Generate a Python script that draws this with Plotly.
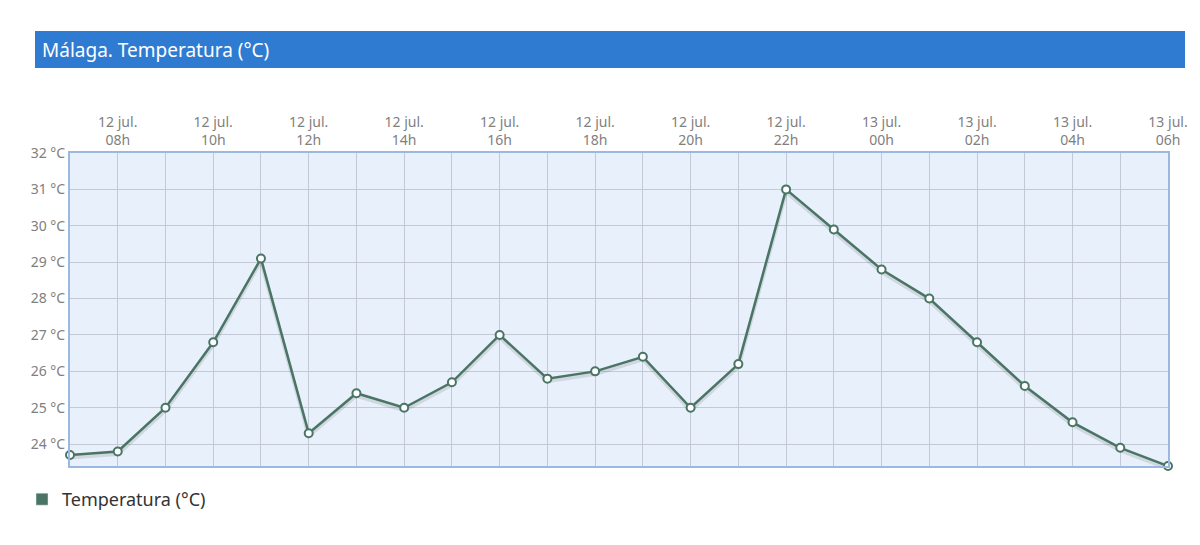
import plotly.graph_objects as go

times = ["2024-07-12 07:00", "2024-07-12 08:00", "2024-07-12 09:00", "2024-07-12 10:00",
         "2024-07-12 11:00", "2024-07-12 12:00", "2024-07-12 13:00", "2024-07-12 14:00",
         "2024-07-12 15:00", "2024-07-12 16:00", "2024-07-12 17:00", "2024-07-12 18:00",
         "2024-07-12 19:00", "2024-07-12 20:00", "2024-07-12 21:00", "2024-07-12 22:00",
         "2024-07-12 23:00", "2024-07-13 00:00", "2024-07-13 01:00", "2024-07-13 02:00",
         "2024-07-13 03:00", "2024-07-13 04:00", "2024-07-13 05:00", "2024-07-13 06:00"]
temps = [23.7, 23.8, 25.0, 26.8, 29.1, 24.3, 25.4, 25.0, 25.7, 27.0, 25.8, 26.0,
         26.4, 25.0, 26.2, 31.0, 29.9, 28.8, 28.0, 26.8, 25.6, 24.6, 23.9, 23.4]

tick_vals = ["2024-07-12 08:00", "2024-07-12 10:00", "2024-07-12 12:00", "2024-07-12 14:00",
             "2024-07-12 16:00", "2024-07-12 18:00", "2024-07-12 20:00", "2024-07-12 22:00",
             "2024-07-13 00:00", "2024-07-13 02:00", "2024-07-13 04:00", "2024-07-13 06:00"]
tick_text = ["12 jul.<br>08h", "12 jul.<br>10h", "12 jul.<br>12h", "12 jul.<br>14h",
             "12 jul.<br>16h", "12 jul.<br>18h", "12 jul.<br>20h", "12 jul.<br>22h",
             "13 jul.<br>00h", "13 jul.<br>02h", "13 jul.<br>04h", "13 jul.<br>06h"]

title = "Málaga. Temperatura (°C)"
series_name = "Temperatura (°C)"

line_color = "#4a7565"
OFF = 8  # page body margin
W, H = 1200 - 2 * OFF, 545 - 2 * OFF
# desired plot area in page pixels: x 70..1168, y 153..466
L = 70 - OFF
T = 153 - OFF
R = W - (1168 - OFF)
B = H - (466 - OFF)
pw, ph = W - L - R, H - T - B

def px(x):
    return (x - OFF - L) / pw

def py(y):
    return (H - B - (y - OFF)) / ph

fig = go.Figure()

# subtle shadow under the line
fig.add_trace(go.Scatter(
    x=times, y=[v - 0.07 for v in temps], mode="lines",
    line=dict(color="rgba(0,0,0,0.10)", width=4),
    hoverinfo="skip", showlegend=False, cliponaxis=False))

fig.add_trace(go.Scatter(
    x=times, y=temps, mode="lines+markers", name=series_name,
    line=dict(color=line_color, width=2.5),
    marker=dict(size=8, color="white", line=dict(color=line_color, width=2)),
    showlegend=False, cliponaxis=False))

# legend entry (square swatch)
fig.add_trace(go.Bar(x=[None], y=[None], name=series_name,
                     marker=dict(color=line_color), showlegend=True))

fig.update_layout(
    width=W, height=H,
    margin=dict(l=L, r=R, t=T, b=B, autoexpand=False),
    paper_bgcolor="white",
    plot_bgcolor="#e8f0fb",
    font=dict(family="Noto Sans, sans-serif", color="#808080", size=14),
    showlegend=True,
    legend=dict(x=px(22), y=py(481), xanchor="left", yanchor="top",
                font=dict(size=18, color="#333333"), bgcolor="rgba(0,0,0,0)",
                itemwidth=30),
    xaxis=dict(
        type="date", side="top", automargin=False,
        range=[times[0], times[-1]],
        tickmode="array", tickvals=tick_vals, ticktext=tick_text,
        showgrid=True, gridcolor="#c3cad5", gridwidth=1,
        minor=dict(dtick=3600000, tick0=times[0], showgrid=True, gridcolor="#c3cad5", gridwidth=1),
        showline=True, linecolor="#9ab8e0", linewidth=2, mirror=True,
        ticks="", zeroline=False,
        tickfont=dict(size=14, color="#808080"),
    ),
    yaxis=dict(
        range=[23.4, 32], dtick=1, tick0=24, automargin=False,
        ticksuffix=" °C",
        showgrid=True, gridcolor="#c3cad5", gridwidth=1,
        showline=True, linecolor="#9ab8e0", linewidth=2, mirror=True,
        ticks="", zeroline=False,
        tickfont=dict(size=14, color="#808080"),
    ),
    shapes=[dict(type="rect", xref="paper", yref="paper",
                 x0=px(35), x1=px(1185), y0=py(68), y1=py(31),
                 fillcolor="#2e7bd1", line=dict(width=0), layer="above")],
    annotations=[dict(text=title, xref="paper", yref="paper",
                      x=px(40), y=py(49.5), xanchor="left", yanchor="middle",
                      showarrow=False, font=dict(size=19, color="white",
                                                 family="Noto Sans, sans-serif"))],
)

fig.write_html("out.html")
